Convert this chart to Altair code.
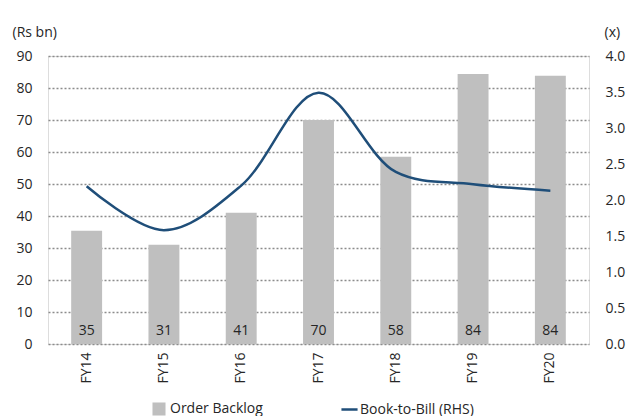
import altair as alt
import pandas as pd

years = ["FY14", "FY15", "FY16", "FY17", "FY18", "FY19", "FY20"]
backlog = [35.4, 31.0, 41.0, 70.0, 58.5, 84.4, 83.8]
backlog_labels = ["35", "31", "41", "70", "58", "84", "84"]
book_to_bill = [2.19, 1.58, 2.20, 3.49, 2.39, 2.22, 2.13]
left_ticks = [0, 10, 20, 30, 40, 50, 60, 70, 80, 90]
right_ticks = [0.0, 0.5, 1.0, 1.5, 2.0, 2.5, 3.0, 3.5, 4.0]

df = pd.DataFrame({
    "year": years,
    "backlog": backlog,
    "label": backlog_labels,
    "btb": book_to_bill,
    "s1": ["Order Backlog"] * len(years),
    "s2": ["Book-to-Bill (RHS)"] * len(years),
})

FONT = "Open Sans"
FS = 14
TXT = "#262626"

left_axis = alt.Axis(values=left_ticks, title="(Rs bn)", titleAngle=0,
                     titleAlign="left", titleBaseline="middle",
                     titleX=-36, titleY=-24, titleFont=FONT, titleFontSize=FS,
                     titleFontWeight="normal", titleColor=TXT,
                     labelFont=FONT, labelFontSize=FS, labelColor=TXT,
                     labelPadding=16, labelOverlap=False, ticks=False,
                     domain=False, grid=True, gridColor="#8C8C8C", gridWidth=1.5,
                     gridDash=[2, 2])

left_scale = alt.Scale(domain=[0, 90], nice=False)

x_enc = alt.X("year:N", sort=years, title=None,
              scale=alt.Scale(paddingInner=0.6, paddingOuter=0.3),
              axis=alt.Axis(labelAngle=-90, labelPadding=8, ticks=False, domain=False,
                            grid=False,
                            labelFont=FONT, labelFontSize=FS, labelColor=TXT))

base = alt.Chart(df)

bars = base.mark_bar(color="#BFBFBF").encode(
    x=x_enc,
    y=alt.Y("backlog:Q", scale=left_scale, axis=left_axis),
    fill=alt.Fill("s1:N", scale=alt.Scale(domain=["Order Backlog"], range=["#BFBFBF"]),
                  legend=alt.Legend(title=None, orient="none", legendX=104, legendY=346,
                                    symbolType="square", symbolSize=170,
                                    symbolStrokeWidth=0,
                                    labelFont=FONT, labelFontSize=FS, labelColor=TXT,
                                    labelOffset=4)),
)

labels = base.mark_text(baseline="bottom", dy=-6, font=FONT, fontSize=FS, color=TXT).encode(
    x=alt.X("year:N", sort=years),
    y=alt.Y("zero:Q", scale=left_scale, axis=left_axis),
    text="label:N",
).transform_calculate(zero="0")

line = base.mark_line(interpolate="catmull-rom", strokeWidth=2.5, color="#1F4E79").encode(
    x=alt.X("year:N", sort=years),
    y=alt.Y("btb:Q", scale=alt.Scale(domain=[0, 4], nice=False),
            axis=alt.Axis(orient="right", values=right_ticks, format=".1f",
                          title="(x)", titleAngle=0, titleAlign="left",
                          titleBaseline="middle", titleX=15, titleY=-24,
                          titleFont=FONT, titleFontSize=FS, titleFontWeight="normal",
                          titleColor=TXT,
                          labelFont=FONT, labelFontSize=FS, labelColor=TXT,
                          labelPadding=16, labelOverlap=False, ticks=False,
                          domain=False, grid=False)),
    stroke=alt.Stroke("s2:N", scale=alt.Scale(domain=["Book-to-Bill (RHS)"], range=["#1F4E79"]),
                      legend=alt.Legend(title=None, orient="none", legendX=292, legendY=344,
                                        symbolType="stroke", symbolSize=260,
                                        symbolStrokeWidth=2.5,
                                        labelFont=FONT, labelFontSize=FS, labelColor=TXT,
                                        labelOffset=1)),
)

left = alt.layer(bars, labels)
chart = alt.layer(left, line).resolve_scale(y="independent").properties(
    width=541, height=288,
    autosize=alt.AutoSizeParams(type="none"),
    padding={"left": 48, "top": 56, "right": 38, "bottom": 72},
).configure_view(stroke=None).configure(background="white")

chart.save("out.html", embed_options={"renderer": "svg", "actions": False})
